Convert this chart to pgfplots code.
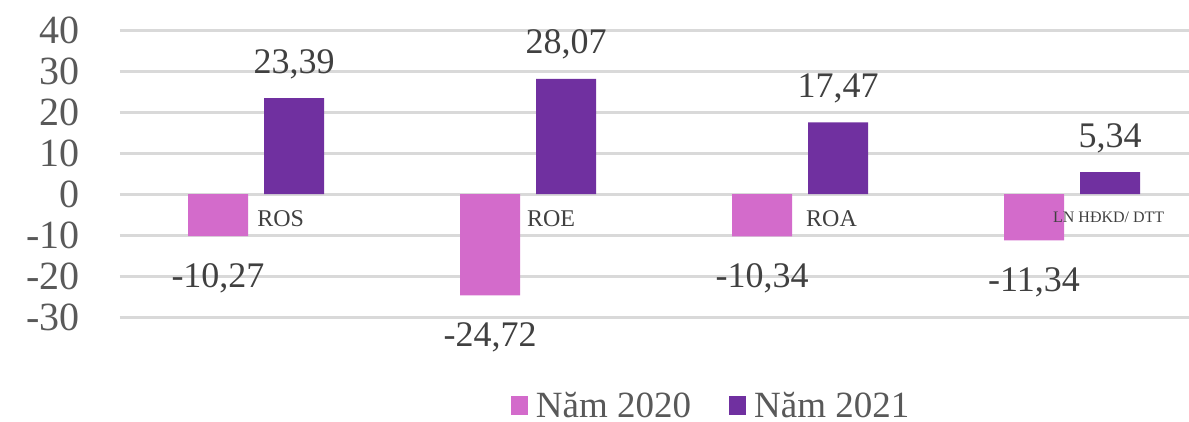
\documentclass[border=0pt]{standalone}
\usepackage{pgfplots}
\pgfplotsset{compat=1.18}
\usepackage{fontspec}
\setmainfont{Liberation Serif}
\definecolor{pinkbar}{HTML}{D36BCB}
\definecolor{purplebar}{HTML}{7030A0}
\definecolor{txt}{HTML}{595959}
\definecolor{txtd}{HTML}{404040}
\definecolor{gridc}{HTML}{D9D9D9}
\begin{document}
\begin{tikzpicture}
\useasboundingbox (-120pt,-104pt) rectangle (1069pt,317pt);
\begin{axis}[
  at={(0pt,0pt)}, anchor=south west,
  scale only axis, width=1069pt, height=287pt,
  xmin=-0.5, xmax=3.43, ymin=-30, ymax=40,
  xtick=\empty,
  ytick={-30,-20,-10,0,10,20,30,40},
  yticklabels={-30,-20,-10,0,10,20,30,40},
  yticklabel style={font=\fontsize{40}{42}\selectfont, text=txt, anchor=east, inner sep=0pt, xshift=-40pt},
  ymajorgrids, major grid style={draw=gridc, line width=3pt},
  axis line style={draw=none}, major tick length=0pt,
  clip=false,
  point meta=explicit symbolic,
  legend style={at={(0.553,-0.307)}, anchor=center, draw=none, fill=none,
    legend columns=2, font=\fontsize{37}{39}\selectfont, text=txt,
    /tikz/every odd column/.append style={column sep=6pt},
    /tikz/every even column/.append style={column sep=36pt}},
  legend image code/.code={\fill[#1] (0pt,-10pt) rectangle (17pt,9pt);},
]
\addplot[ybar, bar width=60pt, bar shift=-38pt, fill=pinkbar, draw=none,
  nodes near coords, nodes near coords style={font=\fontsize{36}{38}\selectfont, text=txtd, anchor=base, xshift=-38pt, yshift=-51pt}]
  table[meta=lab] {
x y lab
0 -10.27 -10,27
1 -24.72 -24,72
2 -10.34 -10,34
3 -11.34 -11,34
};
\addplot[ybar, bar width=60pt, bar shift=38pt, fill=purplebar, draw=none,
  nodes near coords, nodes near coords style={font=\fontsize{36}{38}\selectfont, text=txtd, anchor=base, xshift=38pt, yshift=25pt}]
  table[meta=lab] {
x y lab
0 23.39 23,39
1 28.07 28,07
2 17.47 17,47
3 5.34 5,34
};
\legend{Năm 2020, Năm 2021}
\node[anchor=west, inner sep=0pt, font=\fontsize{24}{26}\selectfont, text=txtd] at (axis cs:0.004,-6) {ROS};
\node[anchor=west, inner sep=0pt, font=\fontsize{24}{26}\selectfont, text=txtd] at (axis cs:0.996,-6) {ROE};
\node[anchor=west, inner sep=0pt, font=\fontsize{24}{26}\selectfont, text=txtd] at (axis cs:2.022,-6) {ROA};
\node[anchor=west, inner sep=0pt, font=\fontsize{16}{18}\selectfont, text=txtd] at (axis cs:2.93,-5.6) {LN HĐKD/ DTT};
\end{axis}
\end{tikzpicture}
\end{document}
